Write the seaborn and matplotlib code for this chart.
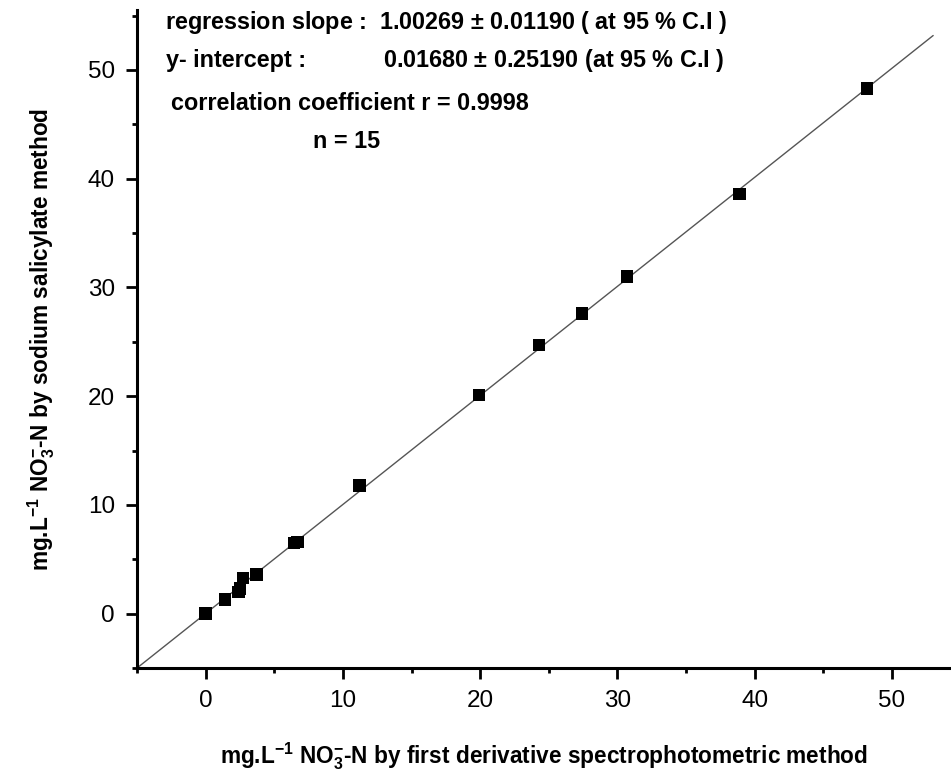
import numpy as np
import matplotlib
matplotlib.use("Agg")
import matplotlib.pyplot as plt
import seaborn as sns
from matplotlib.ticker import MultipleLocator

sns.set_style("ticks")
plt.rcParams["font.family"] = ["Liberation Sans", "DejaVu Sans"]
plt.rcParams["mathtext.fontset"] = "custom"
plt.rcParams["mathtext.rm"] = "Liberation Sans:bold"
plt.rcParams["mathtext.bf"] = "Liberation Sans:bold"
plt.rcParams["text.color"] = "black"
plt.rcParams["axes.labelcolor"] = "black"
plt.rcParams["xtick.color"] = "black"
plt.rcParams["ytick.color"] = "black"

# first derivative method (x) vs sodium salicylate method (y), mg/L NO3-N
x_deriv = [0.0, 1.4, 2.4, 2.5, 2.7, 3.7, 6.45, 6.7, 11.2, 19.9, 24.3, 27.4, 30.7, 38.9, 48.2]
y_salic = [0.0, 1.3, 2.0, 2.3, 3.3, 3.6, 6.5, 6.6, 11.8, 20.1, 24.7, 27.6, 31.0, 38.6, 48.3]

slope = 1.00269
intercept = 0.01680
fit_x = np.array([-5.0, 53.0])
fit_y = slope * fit_x + intercept

fig = plt.figure(figsize=(9.51, 7.75), dpi=100)
ax = fig.add_axes([0.1441, 0.138, 0.8559, 0.849])

ax.plot(fit_x, fit_y, color="#555555", lw=1.0, zorder=1)
sns.scatterplot(x=x_deriv, y=y_salic, marker="s", s=80, color="black",
                edgecolor="none", ax=ax, zorder=2)

ax.set_xlim(-5, 54.3)
ax.set_ylim(-5, 55.5)
ax.xaxis.set_major_locator(MultipleLocator(10))
ax.xaxis.set_minor_locator(MultipleLocator(5))
ax.yaxis.set_major_locator(MultipleLocator(10))
ax.yaxis.set_minor_locator(MultipleLocator(5))
ax.tick_params(which="major", direction="out", length=8, width=2, pad=8,
               labelsize=17.5, color="black", labelcolor="black")
ax.tick_params(which="minor", direction="out", length=3.5, width=2, color="black")
sns.despine(ax=ax)
for sp in ["left", "bottom"]:
    ax.spines[sp].set_linewidth(2.2)
    ax.spines[sp].set_color("black")

ax.set_xlabel(r"mg.L$^{-1}$ NO$_{3}^{-}$-N by first derivative spectrophotometric method",
              fontsize=16.3, fontweight="bold", labelpad=20)
ax.set_ylabel(r"mg.L$^{-1}$ NO$_{3}^{-}$-N by sodium salicylate method",
              fontsize=16.3, fontweight="bold", labelpad=22)

tkw = dict(fontsize=16.8, fontweight="bold", transform=fig.transFigure, va="center")
fig.text(165 / 951, 1 - 22 / 775, "regression slope :  1.00269 $\\pm$ 0.01190 ( at 95 % C.I )", **tkw)
fig.text(166 / 951, 1 - 60 / 775, "y- intercept :", **tkw)
fig.text(383 / 951, 1 - 60 / 775, "0.01680 $\\pm$ 0.25190 (at 95 % C.I )", **tkw)
fig.text(171 / 951, 1 - 103 / 775, "correlation coefficient r = 0.9998", **tkw)
fig.text(313 / 951, 1 - 142 / 775, "n = 15", **tkw)

fig.savefig("out.png", dpi=100)
